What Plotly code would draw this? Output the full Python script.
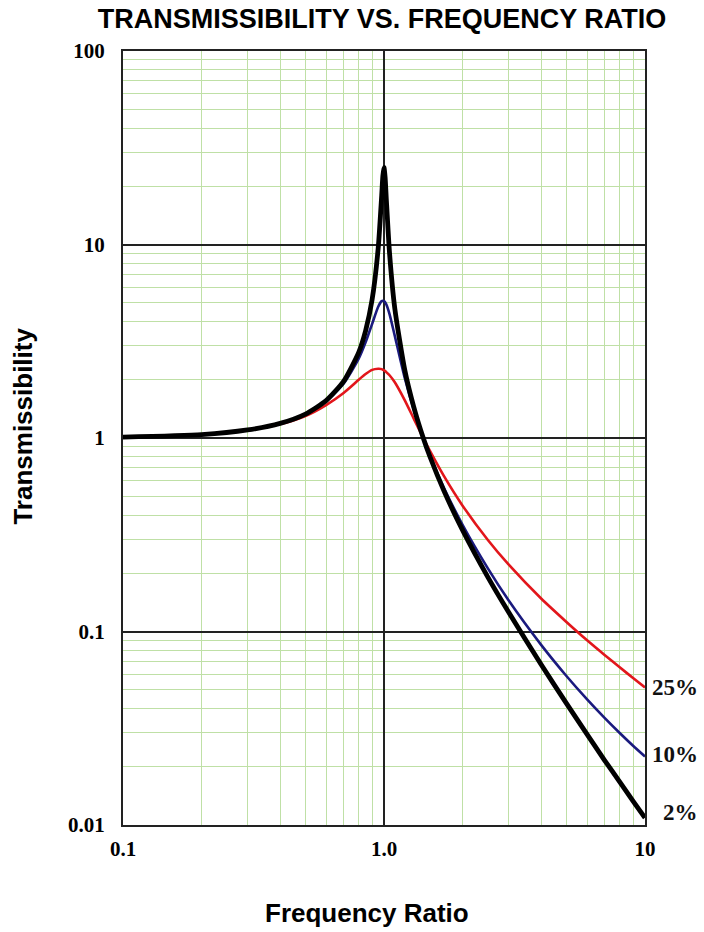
import math
import plotly.graph_objects as go

# ---- data ----
freq_ratio = [0.1, 0.2, 0.3, 0.4, 0.5, 0.6, 0.7, 0.8, 0.85, 0.9, 0.95, 0.98, 0.99, 1.0,
              1.01, 1.02, 1.05, 1.1, 1.2, 1.3, 1.414, 1.5, 1.7, 2.0, 2.5, 3.0, 4.0, 5.0,
              6.0, 7.0, 8.0, 9.0, 10.0]

trans_25 = [1.01, 1.04, 1.10, 1.18, 1.30, 1.48, 1.71, 2.00, 2.14, 2.25, 2.28, 2.27, 2.25, 2.24,
            2.22, 2.19, 2.11, 1.94, 1.57, 1.26, 1.00, 0.858, 0.633, 0.447, 0.297, 0.222, 0.148,
            0.112, 0.090, 0.0756, 0.0653, 0.0575, 0.0514]

trans_10 = [1.01, 1.04, 1.10, 1.19, 1.33, 1.55, 1.91, 2.57, 3.12, 3.88, 4.77, 5.10, 5.12, 5.10,
            5.03, 4.91, 4.37, 3.37, 2.05, 1.40, 1.00, 0.812, 0.550, 0.356, 0.212, 0.145, 0.0853,
            0.0589, 0.0446, 0.0358, 0.0299, 0.0257, 0.0226]

trans_2 = [1.01, 1.04, 1.10, 1.19, 1.33, 1.56, 1.96, 2.77, 3.58, 5.17, 9.56, 17.96, 22.58, 25.0,
           22.18, 17.43, 9.04, 4.67, 2.26, 1.45, 1.00, 0.800, 0.530, 0.334, 0.191, 0.126, 0.0675,
           0.0425, 0.0294, 0.0216, 0.0167, 0.0133, 0.0109]

series_labels = ["25%", "10%", "2%"]

x_tickvals = [0.1, 1, 10]
x_ticktext = ["0.1", "1.0", "10"]
y_tickvals = [0.01, 0.1, 1, 10, 100]
y_ticktext = ["0.01", "0.1", "1", "10", "100"]

x_minor = [m * d for d in (0.1, 1) for m in range(2, 10)]
y_minor = [m * d for d in (0.01, 0.1, 1, 10) for m in range(2, 10)]

# ---- styles ----
colors = ["#e2161b", "#1a1a7e", "#000000"]
widths = [2.6, 2.6, 4.8]
label_yshift = [0, 2, 5]

fig = go.Figure()
for ys, c, w in zip([trans_25, trans_10, trans_2], colors, widths):
    fig.add_trace(go.Scatter(x=freq_ratio, y=ys, mode="lines",
                             line=dict(color=c, width=w, shape="spline", smoothing=0.6),
                             hoverinfo="skip"))

serif = dict(family="Liberation Serif, Times New Roman, serif", size=21, color="black", weight="bold")
sans = "Liberation Sans, Arial, sans-serif"

axis_common = dict(
    type="log", showgrid=True, gridcolor="#222222", gridwidth=1.6,
    showline=True, linecolor="#222222", linewidth=2, mirror=True,
    ticks="", zeroline=False, tickfont=serif,
)

fig.update_xaxes(range=[-1, 1], tickmode="array", tickvals=x_tickvals, ticktext=x_ticktext,
                 ticklabelstandoff=4,
                 minor=dict(tickmode="array", tickvals=x_minor, showgrid=True,
                            gridcolor="#bfe0a6", gridwidth=1, ticks=""),
                 **axis_common)
fig.update_yaxes(range=[-2, 2], tickmode="array", tickvals=y_tickvals, ticktext=y_ticktext,
                 ticklabelstandoff=12,
                 minor=dict(tickmode="array", tickvals=y_minor, showgrid=True,
                            gridcolor="#bfe0a6", gridwidth=1, ticks=""),
                 **axis_common)

annotations = []
for lab, ys, sh in zip(series_labels, [trans_25, trans_10, trans_2], label_yshift):
    annotations.append(dict(text=lab, xref="paper", x=1, xanchor="right", xshift=55,
                            yref="y", y=math.log10(ys[-1]), yanchor="middle", yshift=sh,
                            showarrow=False,
                            font=dict(family=serif["family"], size=23, color="#111", weight="bold")))

annotations.append(dict(text="Frequency Ratio", xref="paper", yref="paper",
                        x=0.4665, y=-0.114, xanchor="center", yanchor="middle", showarrow=False,
                        font=dict(family=sans, size=26, color="black", weight="bold")))
annotations.append(dict(text="Transmissibility", xref="paper", yref="paper",
                        x=-0.1916, y=0.516, xanchor="center", yanchor="middle", showarrow=False,
                        textangle=-90,
                        font=dict(family=sans, size=26, color="black", weight="bold")))

fig.update_layout(
    width=704, height=932,
    margin=dict(l=123, r=59, t=51, b=107),
    plot_bgcolor="white", paper_bgcolor="white",
    showlegend=False,
    title=dict(text="TRANSMISSIBILITY VS. FREQUENCY RATIO",
               xref="container", yref="container", x=382 / 704, y=1 - 19 / 932,
               xanchor="center", yanchor="middle",
               font=dict(family=sans, size=27, color="black", weight="bold")),
    annotations=annotations,
)

fig.write_html("out.html", config={"displayModeBar": False},
               post_script="document.body.style.margin='0';")
